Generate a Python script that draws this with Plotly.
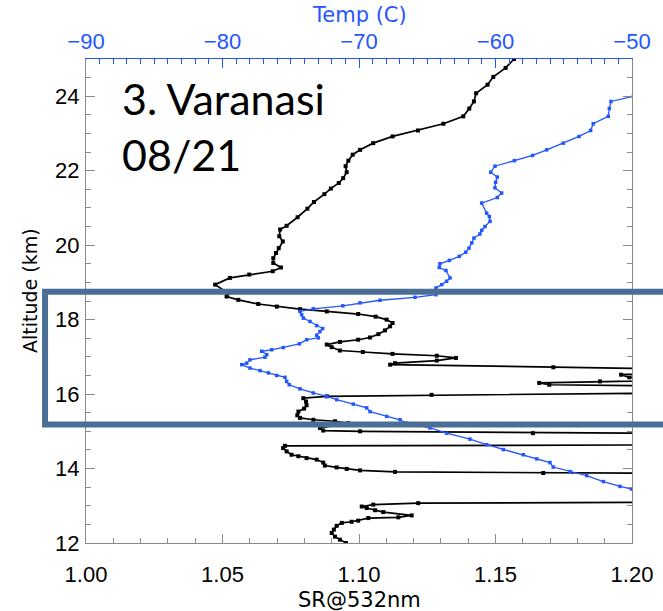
import plotly.graph_objects as go

# ---- Data: backscatter ratio (SR @ 532 nm) profile ----
sr_alt = [25.0, 24.76, 24.52, 24.31, 24.08, 23.86, 23.67, 23.46, 23.26, 23.08,
          22.92, 22.74, 22.56, 22.43, 22.27, 22.12, 21.96, 21.80, 21.67, 21.52,
          21.37, 21.16, 20.98, 20.75, 20.52, 20.42, 20.24, 20.10, 19.92, 19.79,
          19.65, 19.52, 19.40, 19.30, 19.21, 19.12, 18.94, 18.71, 18.62, 18.53,
          18.42, 18.35, 18.28, 18.22, 18.15, 18.08, 18.00, 17.91, 17.82, 17.71,
          17.61, 17.52, 17.46, 17.40, 17.33, 17.26, 17.17, 17.13, 17.08, 17.03,
          16.97, 16.90, 16.83, 16.79, 16.72, 16.66, 16.52, 16.45, 16.41, 16.34,
          16.30, 16.25, 16.20, 16.05, 15.98, 15.94, 15.89, 15.80, 15.70, 15.61,
          15.53, 15.43, 15.36, 15.31, 15.27, 15.22, 15.09, 15.02, 15.00, 14.95,
          14.93, 14.64, 14.61, 14.55, 14.46, 14.37, 14.33, 14.28, 14.24, 14.16,
          14.08, 14.03, 13.99, 13.95, 13.91, 13.88, 13.86, 13.10, 13.07, 13.03,
          12.98, 12.94, 12.88, 12.83, 12.74, 12.69, 12.67, 12.60, 12.57, 12.54,
          12.46, 12.36, 12.27, 12.17, 12.09, 12.00]
sr_val = [1.1568, 1.1537, 1.1492, 1.1471, 1.1429, 1.1421, 1.1404, 1.1382, 1.1309, 1.1216,
          1.1123, 1.1052, 1.1004, 1.0977, 1.0961, 1.0951, 1.0955, 1.0942, 1.0926, 1.0897,
          1.0873, 1.0835, 1.0811, 1.0775, 1.0735, 1.0711, 1.0708, 1.0721, 1.0706, 1.0696,
          1.0686, 1.0686, 1.0714, 1.0684, 1.0598, 1.0527, 1.0473, 1.0521, 1.0515, 1.0558,
          1.0631, 1.0699, 1.0784, 1.0882, 1.0997, 1.1061, 1.1101, 1.1123, 1.1114, 1.1095,
          1.1071, 1.1040, 1.0997, 1.0930, 1.0882, 1.0900, 1.0930, 1.1014, 1.1123, 1.1285,
          1.1355, 1.1285, 1.1132, 1.1114, 1.1712, 1.2300, 1.1960, 1.1990, 1.2400, 1.1883,
          1.1660, 1.1697, 1.2400, 1.2400, 1.1266, 1.0882, 1.0796, 1.0806, 1.0808, 1.0799,
          1.0778, 1.0774, 1.0784, 1.0833, 1.0912, 1.0960, 1.0857, 1.0869, 1.1004, 1.1637,
          1.2400, 1.2400, 1.0729, 1.0722, 1.0735, 1.0753, 1.0778, 1.0808, 1.0845, 1.0869,
          1.0875, 1.0918, 1.0955, 1.1004, 1.1132, 1.1675, 1.2400, 1.2400, 1.1217, 1.1052,
          1.1010, 1.1028, 1.1059, 1.1089, 1.1193, 1.1144, 1.1034, 1.0997, 1.0973, 1.0937,
          1.0918, 1.0908, 1.0900, 1.0912, 1.0930, 1.0952]

# ---- Data: temperature profile (deg C) ----
t_alt = [24.00, 23.86, 23.67, 23.46, 23.26, 23.08, 22.92, 22.74, 22.56, 22.41,
         22.27, 22.12, 21.96, 21.83, 21.69, 21.54, 21.40, 21.28, 21.13, 20.86,
         20.77, 20.64, 20.50, 20.40, 20.30, 20.19, 20.06, 19.92, 19.81, 19.70,
         19.59, 19.50, 19.40, 19.32, 19.12, 19.03, 18.94, 18.85, 18.67, 18.60,
         18.52, 18.45, 18.37, 18.29, 18.22, 18.13, 18.04, 17.95, 17.84, 17.76,
         17.68, 17.58, 17.51, 17.46, 17.35, 17.25, 17.19, 17.15, 17.06, 16.99,
         16.92, 16.83, 16.79, 16.70, 16.63, 16.57, 16.50, 16.45, 16.34, 16.25,
         16.14, 16.03, 15.94, 15.85, 15.73, 15.63, 15.53, 15.40, 15.31, 15.22,
         15.09, 14.95, 14.79, 14.64, 14.51, 14.37, 14.26, 14.16, 14.04, 13.92,
         13.81, 13.65, 13.52, 13.45]
t_val = [-49.9, -51.54, -51.66, -51.74, -52.84, -53.03, -53.88, -55.03, -56.25, -57.28,
         -58.62, -60.04, -60.35, -59.87, -59.99, -60.04, -59.55, -59.87, -61.01, -60.65,
         -60.45, -60.40, -60.77, -61.01, -61.14, -61.58, -61.74, -61.94, -62.18, -62.65,
         -63.38, -64.07, -64.12, -63.63, -63.33, -63.58, -63.94, -64.36, -64.36, -65.90,
         -68.46, -69.93, -71.19, -73.35, -74.32, -74.20, -74.08, -73.59, -73.10, -72.66,
         -72.86, -73.10, -72.98, -73.83, -74.37, -75.55, -76.40, -77.13, -76.76, -76.89,
         -77.99, -78.23, -78.59, -77.99, -77.25, -76.64, -76.03, -75.42, -75.30, -75.11,
         -74.32, -73.35, -72.37, -71.63, -70.42, -69.44, -69.19, -67.97, -66.99, -66.51,
         -64.80, -63.58, -61.87, -60.64, -59.43, -57.96, -56.98, -56.01, -55.77, -54.54,
         -53.32, -52.10, -50.88, -50.02]

sr_ticks = [1.00, 1.05, 1.10, 1.15, 1.20]
sr_ticktext = ["1.00", "1.05", "1.10", "1.15", "1.20"]
t_ticks = [-90, -80, -70, -60, -50]
alt_ticks = [12, 14, 16, 18, 20, 22, 24]
layer_bounds = [15.18, 18.75]   # highlighted altitude layer (km)

BLUE = "#2456ff"
GRAY = "#8a8a8a"
BAND = "#4a6e95"
TICKFONT = "Liberation Sans"
TITLEFONT = "DejaVu Sans"

fig = go.Figure()
fig.add_trace(go.Scatter(
    x=sr_val, y=sr_alt, mode="lines+markers",
    line=dict(color="black", width=1.7),
    marker=dict(color="black", size=4, symbol="square"),
    xaxis="x", yaxis="y", showlegend=False))
fig.add_trace(go.Scatter(
    x=t_val, y=t_alt, mode="lines+markers",
    line=dict(color=BLUE, width=1.3),
    marker=dict(color=BLUE, size=3.5, symbol="square"),
    xaxis="x2", yaxis="y", showlegend=False))

y_lo, y_hi = 12, 25
fig.add_shape(type="rect", xref="paper", yref="paper",
              x0=-0.075, x1=1.25,
              y0=(layer_bounds[0] - y_lo) / (y_hi - y_lo),
              y1=(layer_bounds[1] - y_lo) / (y_hi - y_lo),
              line=dict(color=BAND, width=6), fillcolor="rgba(0,0,0,0)",
              layer="above")

fig.add_annotation(xref="paper", yref="paper", x=0.062, y=0.975,
                   xanchor="left", yanchor="top", align="left",
                   text="3. Varanasi<br>08/21", showarrow=False,
                   font=dict(family="Lato", size=43, color="black"))

# axis titles placed as annotations (pixel offsets from the plot edges)
fig.add_annotation(xref="paper", yref="paper", x=0.5, y=1.0, yshift=44,
                   xanchor="center", yanchor="middle", showarrow=False,
                   text="Temp (C)",
                   font=dict(family=TITLEFONT, size=21, color=BLUE))
fig.add_annotation(xref="paper", yref="paper", x=0.5, y=0.0, yshift=-57,
                   xanchor="center", yanchor="middle", showarrow=False,
                   text="SR@532nm",
                   font=dict(family=TITLEFONT, size=21, color="black"))
fig.add_annotation(xref="paper", yref="paper", x=0.0, y=0.5, xshift=-56,
                   yshift=10, xanchor="center", yanchor="middle",
                   showarrow=False, textangle=-90, text="Altitude (km)",
                   font=dict(family=TITLEFONT, size=19, color="black"))

fig.update_layout(
    template="none",
    width=663, height=611, autosize=False,
    margin=dict(l=86, r=31, t=59, b=68),
    plot_bgcolor="white", paper_bgcolor="white",
    xaxis=dict(range=[1.0, 1.2], tickvals=sr_ticks, ticktext=sr_ticktext,
               automargin=False,
               ticks="inside", ticklen=9, tickcolor=GRAY, showline=True,
               linecolor=GRAY, linewidth=1.2, showgrid=False, zeroline=False,
               minor=dict(dtick=0.01, ticks="inside", ticklen=5, tickcolor=GRAY),
               tickfont=dict(family=TICKFONT, size=22, color="black"),
               ticklabelstandoff=11),
    xaxis2=dict(range=[-90, -50], tickvals=t_ticks, overlaying="x", side="top",
                automargin=False,
                ticks="inside", ticklen=9, tickcolor=BLUE, showline=True,
                linecolor=BLUE, linewidth=1.2, showgrid=False, zeroline=False,
                minor=dict(dtick=1, ticks="inside", ticklen=5, tickcolor=BLUE),
                tickfont=dict(family=TICKFONT, size=22, color=BLUE),
                ticklabelstandoff=0),
    yaxis=dict(range=[y_lo, y_hi], tickvals=alt_ticks,
               automargin=False,
               ticks="inside", ticklen=9, tickcolor=GRAY, showline=True,
               linecolor=GRAY, linewidth=1.2, mirror="ticks", showgrid=False,
               zeroline=False,
               minor=dict(dtick=0.5, ticks="inside", ticklen=5, tickcolor=GRAY),
               tickfont=dict(family=TICKFONT, size=22, color="black"),
               ticklabelstandoff=1),
)

fig.write_html(
    "out.html",
    config={"displayModeBar": False},
    post_script="document.body.style.margin='0';document.body.style.overflow='hidden';",
)
